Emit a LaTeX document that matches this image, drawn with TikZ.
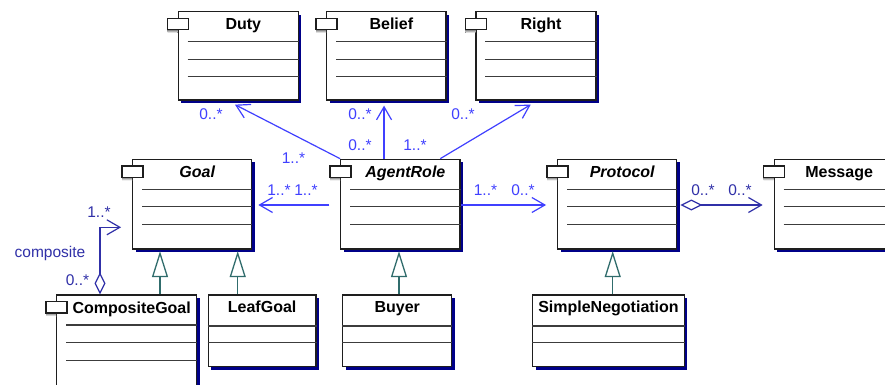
\documentclass[tikz,border=0pt]{standalone}
\usepackage{fontspec}
\setmainfont{Liberation Sans}
\usetikzlibrary{arrows.meta,calc,shadows}
\definecolor{assoc}{RGB}{64,64,255}
\definecolor{aggr}{RGB}{48,48,168}
\definecolor{gen}{RGB}{48,108,108}
\definecolor{shade}{RGB}{0,0,136}
\definecolor{boxline}{RGB}{30,30,30}
\definecolor{sepline}{RGB}{60,60,60}
\tikzset{
  x=1pt, y=-1pt,
  classbox/.style={draw=boxline, fill=white, line width=1.3pt, inner sep=0pt,
    general shadow={fill=shade, shadow xshift=3pt, shadow yshift=-3pt}},
  cname/.style={font=\bfseries\fontsize{16}{19}\selectfont, text=black, inner sep=0pt, anchor=base},
  cnamei/.style={cname, font=\bfseries\itshape\fontsize{16}{19}\selectfont},
  mult/.style={font=\fontsize{15.5}{18}\selectfont, text=assoc, inner sep=0pt, anchor=base},
  multd/.style={mult, text=aggr},
  assocline/.style={draw=assoc, line width=1.2pt, -{Straight Barb[length=13pt,width=15pt,line width=1.2pt]}},
  aggrline/.style={draw=aggr, line width=1.2pt, {Diamond[open,length=22pt,width=11pt,line width=1.2pt]}-{Straight Barb[length=13pt,width=15pt,line width=1.2pt]}},
  genline/.style={draw=gen, line width=1.3pt, -{Triangle[open,length=26pt,width=16pt,line width=1.3pt]}},
  sep/.style={draw=sepline, line width=1.2pt}
}
\newcommand{\umlicon}[1]{%
  \fill[shade] ($(#1.north west)+(-10,18.7)$) rectangle ($(#1.north west)+(0,21.7)$);
  \draw[boxline, fill=white, line width=1.3pt] ($(#1.north west)+(-10,7.3)$) rectangle ($(#1.north west)+(11,18.7)$);
  \foreach \d in {30.7,48.2,65.8} \draw[sep] ($(#1.north west)+(10,\d)$) -- ($(#1.north east)+(0,\d)$);
}
\newcommand{\umlplain}[1]{%
  \foreach \d in {31.7,48.3} \draw[sep] ($(#1.north west)+(0,\d)$) -- ($(#1.north east)+(0,\d)$);
}
\begin{document}
\begin{tikzpicture}
\path[use as bounding box] (0,0) rectangle (885,385);
\clip (0,0) rectangle (885,385);
\fill[white] (0,0) rectangle (885,385);

% boxes
\node[classbox, minimum width=120pt, minimum height=88.3pt] (duty) at (238.3,55.85) {};
\node[classbox, minimum width=119.3pt, minimum height=88.3pt] (belief) at (386.35,55.85) {};
\node[classbox, minimum width=120pt, minimum height=88.3pt] (right) at (536,55.85) {};
\node[classbox, minimum width=119pt, minimum height=89.7pt] (goal) at (192.2,204.15) {};
\node[classbox, minimum width=119.3pt, minimum height=89.7pt] (agent) at (400.35,204.15) {};
\node[classbox, minimum width=119pt, minimum height=89.7pt] (protocol) at (617.2,204.15) {};
\node[classbox, minimum width=119.7pt, minimum height=89.7pt] (message) at (834.15,204.15) {};
\node[classbox, minimum width=140pt, minimum height=93pt] (cgoal) at (126.7,341.5) {};
\node[classbox, minimum width=107.7pt, minimum height=71.7pt] (leaf) at (262.15,330.85) {};
\node[classbox, minimum width=109pt, minimum height=71.7pt] (buyer) at (397.2,330.85) {};
\node[classbox, minimum width=151.6pt, minimum height=71.7pt] (simple) at (608.5,330.85) {};

\umlicon{duty}\umlicon{belief}\umlicon{right}\umlicon{goal}\umlicon{agent}
\umlicon{protocol}\umlicon{message}\umlicon{cgoal}
\umlplain{leaf}\umlplain{buyer}\umlplain{simple}

% names
\node[cname] (dutyN) at ($(duty.north)+(5,18.3)$) {Duty};
\node[cname] (beliefN) at ($(belief.north)+(5,18.3)$) {Belief};
\node[cname] (rightN) at ($(right.north)+(5,18.3)$) {Right};
\node[cnamei] (goalN) at ($(goal.north)+(5,18.8)$) {Goal};
\node[cnamei] (agentN) at ($(agent.north)+(5,18.8)$) {AgentRole};
\node[cnamei] (protocolN) at ($(protocol.north)+(5,18.8)$) {Protocol};
\node[cname] (messageN) at ($(message.north)+(5,18.8)$) {Message};
\node[cname] (cgoalN) at ($(cgoal.north)+(5,19)$) {CompositeGoal};
\node[cname] (leafN) at ($(leaf.north)+(0,18.5)$) {LeafGoal};
\node[cname] (buyerN) at ($(buyer.north)+(0,18.5)$) {Buyer};
\node[cname] (simpleN) at ($(simple.north)+(0,18.5)$) {SimpleNegotiation};

% associations
\coordinate (dutyT) at ($(duty.south)+(-3.3,4)$);
\draw[assocline] (agent.north west) -- (dutyT);
\coordinate (beliefT) at ($(belief.south)+(-2.3,5)$);
\draw[assocline] (agent.north -| beliefT) -- (beliefT);
\coordinate (rightT) at ($(right.south)+(-5.3,4)$);
\draw[assocline] ($(agent.north east)+(-20.4,0)$) -- (rightT);
\coordinate (agentW) at ($(agent.west)+(-10.7,0.85)$);
\coordinate (goalT) at ($(goal.east)+(6,0.85)$);
\draw[assocline] (agentW) -- (goalT);
\coordinate (protT) at ($(protocol.west)+(-11,0.85)$);
\draw[assocline] ($(agent.east)+(0,0.85)$) -- (protT);
\coordinate (msgT) at ($(message.west)+(-11,0.85)$);
\draw[aggrline] ($(protocol.east)+(3,0.85)$) -- (msgT);
\coordinate (compS) at ($(cgoal.north)+(-26.7,0)$);
\coordinate (compT) at ($(goal.west)+(-11,23.15)$);
\draw[aggrline] (compS) |- (compT);

% generalizations
\draw[genline] ($(cgoal.north -| goal.south)+(-32.2,0)$) -- ($(goal.south)+(-32.2,1.5)$);
\draw[genline] ($(leaf.north -| goal.south)+(45.5,0)$) -- ($(goal.south)+(45.5,1.5)$);
\draw[genline] ($(buyer.north -| agent.south)+(-1.35,0)$) -- ($(agent.south)+(-1.35,1.5)$);
\draw[genline] ($(simple.north -| protocol.south)+(-4.5,0)$) -- ($(protocol.south)+(-4.5,1.5)$);

% multiplicities
\node[mult] (m1) at (211,120) {0..*};
\node[mult] (m2) at (293.5,163) {1..*};
\node[mult] (m3) at (360,120) {0..*};
\node[mult] (m4) at (360,150) {0..*};
\node[mult] (m5) at (415,150) {1..*};
\node[mult] (m6) at (463,120) {0..*};
\node[mult] (m7) at (279,195) {1..*};
\node[mult] (m8) at (306,195) {1..*};
\node[mult] (m9) at (485.5,195) {1..*};
\node[mult] (m10) at (523,195) {0..*};
\node[multd] (m11) at (703,195) {0..*};
\node[multd] (m12) at (740,195) {0..*};
\node[multd] (m13) at (99,217) {1..*};
\node[multd] (m14) at (50,257) {composite};
\node[multd] (m15) at (77.5,285) {0..*};
\end{tikzpicture}
\end{document}
